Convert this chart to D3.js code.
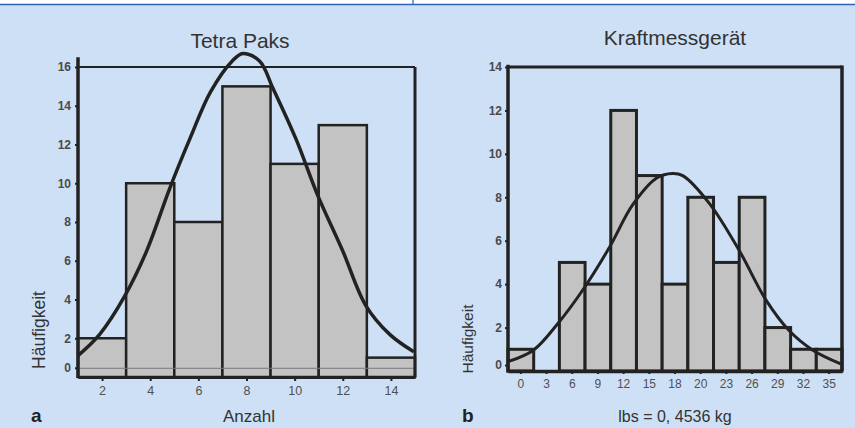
<!DOCTYPE html>
<html>
<head>
<meta charset="utf-8">
<script src="https://cdn.jsdelivr.net/npm/d3@7"></script>
<style>
  body { margin: 0; background: #cee0f5; }
  svg { display: block; }
  text { font-family: 'Liberation Sans', Arial, sans-serif; }
</style>
</head>
<body>
<script>
// chart a: Tetra Paks
const tetraEdges = [1, 3, 5, 7, 9, 11, 13, 15];
const tetraCounts = [2, 10, 8, 15, 11, 13, 1];
const tetraTicksX = [2, 4, 6, 8, 10, 12, 14];
const tetraTicksY = [0, 2, 4, 6, 8, 10, 12, 14, 16];
// normal curve
const tetraCurveX = [1.0, 1.9, 2.95, 3.85, 4.8, 5.65, 6.5, 7.4, 7.85, 8.55, 9.1, 10.05, 10.95, 12.0, 12.95, 13.95, 14.95];
const tetraCurveY = [1.1, 2.2, 4.2, 6.5, 9.7, 12.3, 14.7, 16.3, 16.7, 16.3, 14.9, 12.3, 9.4, 6.5, 3.7, 2.2, 1.3];
const tetraZeroLine = 0.45;

// chart b: Kraftmessgerät
const kraftLabels = ['0', '3', '6', '9', '12', '15', '18', '20', '23', '26', '29', '32', '35'];
const kraftCounts = [1, 0, 5, 4, 12, 9, 4, 8, 5, 8, 2, 1, 1];
const kraftTicksY = [0, 2, 4, 6, 8, 10, 12, 14];
// curve x in bin units (0 = left edge of first bin)
const kraftCurveX = [0.0, 1.0, 1.95, 2.95, 3.95, 4.85, 5.8, 6.4, 6.8, 7.85, 9.0, 10.05, 10.95, 11.85, 12.95];
const kraftCurveY = [0.43, 0.97, 2.2, 3.8, 5.7, 7.65, 8.9, 9.1, 9.0, 7.7, 5.55, 3.25, 1.85, 0.97, 0.33];
const kraftZeroLine = 0.25;

const W = 855, H = 428;
const ink = '#222';
const barFill = '#c3c3c4';

let svg = d3
  .select('body')
  .append('svg')
  .attr('width', W)
  .attr('height', H)
  .attr('viewBox', [0, 0, W, H].join(' '));

// top strip
svg.append('rect').attr('x', 0).attr('y', 0).attr('width', W).attr('height', 4).attr('fill', '#fff');
svg.append('line').attr('x1', 0).attr('x2', W).attr('y1', 4.5).attr('y2', 4.5)
  .attr('stroke', '#2c62b8').attr('stroke-width', 1.5);
svg.append('line').attr('x1', 413).attr('x2', 413).attr('y1', 0).attr('y2', 4)
  .attr('stroke', '#2c62b8').attr('stroke-width', 1.2);

// ---------- chart a ----------
const xA = d3.scaleLinear().domain([1, 15]).range([78, 415]);
const yA = d3.scaleLinear().domain([0, 16]).range([377, 67]);

const gA = svg.append('g');

gA.selectAll('rect.bar')
  .data(tetraCounts)
  .enter()
  .append('rect')
  .attr('class', 'bar')
  .attr('x', (d, i) => xA(tetraEdges[i]))
  .attr('width', (d, i) => xA(tetraEdges[i + 1]) - xA(tetraEdges[i]))
  .attr('y', (d) => yA(d))
  .attr('height', (d) => yA(0) - yA(d))
  .attr('fill', barFill)
  .attr('stroke', ink)
  .attr('stroke-width', 2.5);

// thin reference line
gA.append('line')
  .attr('x1', xA(1)).attr('x2', xA(15))
  .attr('y1', yA(tetraZeroLine)).attr('y2', yA(tetraZeroLine))
  .attr('stroke', '#7a7a7a').attr('stroke-width', 1);

// frame
gA.append('line').attr('x1', xA(1)).attr('x2', xA(15)).attr('y1', yA(16)).attr('y2', yA(16))
  .attr('stroke', ink).attr('stroke-width', 2);
gA.append('line').attr('x1', xA(15)).attr('x2', xA(15)).attr('y1', yA(16)).attr('y2', yA(0))
  .attr('stroke', ink).attr('stroke-width', 3);

// axes
const axYA = gA.append('g')
  .attr('transform', `translate(${xA(1)},0)`)
  .call(d3.axisLeft(yA).tickValues(tetraTicksY).tickSize(3).tickSizeOuter(0).tickPadding(4));
axYA.select('.domain').remove();
axYA.selectAll('.tick').filter((d) => d === 0)
  .attr('transform', `translate(0,${yA(tetraZeroLine)})`);
axYA.selectAll('.tick line').attr('stroke', ink).attr('stroke-width', 2);
axYA.selectAll('.tick text')
  .style('font-size', '12px').style('font-weight', 'bold').attr('fill', '#4a4a4a');
gA.append('line').attr('x1', xA(1)).attr('x2', xA(1)).attr('y1', yA(0) + 1).attr('y2', yA(16.5))
  .attr('stroke', ink).attr('stroke-width', 3.5);

const axXA = gA.append('g')
  .attr('transform', `translate(0,${yA(0)})`)
  .call(d3.axisBottom(xA).tickValues(tetraTicksX).tickSize(4).tickSizeOuter(0).tickPadding(5));
axXA.select('.domain').attr('stroke', ink).attr('stroke-width', 3);
axXA.selectAll('.tick line').attr('stroke', ink).attr('stroke-width', 2);
axXA.selectAll('.tick text').style('font-size', '12.5px').attr('fill', '#505050');

// curve
const lineA = d3.line()
  .x((d, i) => xA(tetraCurveX[i]))
  .y((d) => yA(d))
  .curve(d3.curveCatmullRom);
gA.append('path')
  .datum(tetraCurveY)
  .attr('d', lineA)
  .attr('fill', 'none')
  .attr('stroke', ink)
  .attr('stroke-width', 3.5);

// labels
svg.append('text').attr('x', 240).attr('y', 48).attr('text-anchor', 'middle')
  .style('font-size', '21px').attr('fill', '#333').text('Tetra Paks');
svg.append('text').attr('x', 249).attr('y', 422).attr('text-anchor', 'middle')
  .style('font-size', '17px').attr('fill', '#333').text('Anzahl');
svg.append('text').attr('transform', 'translate(45,330) rotate(-90)').attr('text-anchor', 'middle')
  .style('font-size', '17.5px').attr('fill', '#333').text('Häufigkeit');
svg.append('text').attr('x', 31).attr('y', 422)
  .style('font-size', '19px').style('font-weight', 'bold').attr('fill', '#222').text('a');

// ---------- chart b ----------
const xB = d3.scaleBand().domain(kraftLabels).range([508, 842]).padding(0);
const xBLin = d3.scaleLinear().domain([0, kraftLabels.length]).range([508, 842]);
const yB = d3.scaleLinear().domain([0, 14]).range([371, 67]);

const gB = svg.append('g');

gB.selectAll('rect.bar')
  .data(kraftCounts)
  .enter()
  .append('rect')
  .attr('class', 'bar')
  .attr('x', (d, i) => xB(kraftLabels[i]))
  .attr('width', xB.bandwidth())
  .attr('y', (d) => yB(d))
  .attr('height', (d) => yB(0) - yB(d))
  .attr('fill', barFill)
  .attr('stroke', (d) => (d > 0 ? ink : 'none'))
  .attr('stroke-width', 3);

// frame
gB.append('line').attr('x1', xBLin(0)).attr('x2', xBLin(13)).attr('y1', yB(14)).attr('y2', yB(14))
  .attr('stroke', ink).attr('stroke-width', 3);
gB.append('line').attr('x1', xBLin(13)).attr('x2', xBLin(13)).attr('y1', yB(14) - 1.5).attr('y2', yB(0))
  .attr('stroke', ink).attr('stroke-width', 3.5);

const axYB = gB.append('g')
  .attr('transform', `translate(${xBLin(0)},0)`)
  .call(d3.axisLeft(yB).tickValues(kraftTicksY).tickSize(3).tickSizeOuter(0).tickPadding(3));
axYB.select('.domain').remove();
axYB.selectAll('.tick').filter((d) => d === 0)
  .attr('transform', `translate(0,${yB(kraftZeroLine)})`);
axYB.selectAll('.tick line').attr('stroke', ink).attr('stroke-width', 2);
axYB.selectAll('.tick text')
  .style('font-size', '12px').style('font-weight', 'bold').attr('fill', '#4a4a4a');
gB.append('line').attr('x1', xBLin(0)).attr('x2', xBLin(0)).attr('y1', yB(0) + 1.5).attr('y2', yB(14.1))
  .attr('stroke', ink).attr('stroke-width', 3.5);

const axXB = gB.append('g')
  .attr('transform', `translate(0,${yB(0)})`)
  .call(d3.axisBottom(xB).tickSize(3).tickSizeOuter(0).tickPadding(5));
axXB.select('.domain').attr('stroke', ink).attr('stroke-width', 3.5);
axXB.selectAll('.tick line').attr('stroke', ink).attr('stroke-width', 2);
axXB.selectAll('.tick text').style('font-size', '12px').attr('fill', '#505050');

const lineB = d3.line()
  .x((d, i) => xBLin(kraftCurveX[i]))
  .y((d) => yB(d))
  .curve(d3.curveCatmullRom);
gB.append('path')
  .datum(kraftCurveY)
  .attr('d', lineB)
  .attr('fill', 'none')
  .attr('stroke', ink)
  .attr('stroke-width', 3);

svg.append('text').attr('x', 675).attr('y', 45).attr('text-anchor', 'middle')
  .style('font-size', '21px').attr('fill', '#333').text('Kraftmessgerät');
svg.append('text').attr('x', 675).attr('y', 422).attr('text-anchor', 'middle')
  .style('font-size', '16px').attr('fill', '#333').text('lbs = 0, 4536 kg');
svg.append('text').attr('transform', 'translate(473,339) rotate(-90)').attr('text-anchor', 'middle')
  .style('font-size', '15.5px').attr('fill', '#333').text('Häufigkeit');
svg.append('text').attr('x', 462).attr('y', 422)
  .style('font-size', '19px').style('font-weight', 'bold').attr('fill', '#222').text('b');
</script>
</body>
</html>
